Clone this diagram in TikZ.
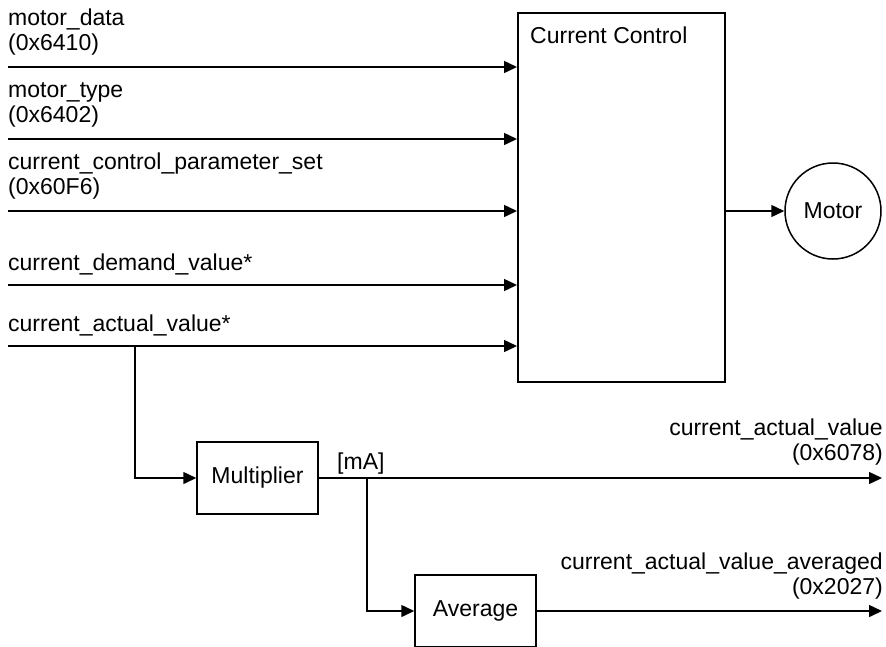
\documentclass[tikz,border=0pt]{standalone}
\usepackage{fontspec}
\setmainfont{Liberation Sans}
\usetikzlibrary{arrows.meta}
\tikzset{
  lbl/.style={font=\fontsize{23}{25}\selectfont, inner sep=0pt, align=left},
  block/.style={draw, line width=1.5pt, inner sep=0pt},
  sig/.style={line width=1.5pt, -{Triangle[length=13pt,width=12pt]}},
}

\begin{document}
\begin{tikzpicture}[x=1pt, y=-1pt]
  \useasboundingbox (0,0) rectangle (886,646);
  % Current control block and motor
  \node[block, anchor=north west, minimum width=207pt, minimum height=369pt] (cc) at (517,12) {};
  \node[lbl, anchor=base west] (cctext) at (530,43) {Current Control};
  \node[lbl, block, circle, minimum size=96pt] (motor) at (833,211) {Motor};
  \draw[sig] (cc.east |- motor) -- (motor);

  % Inputs of the current control (label base = last line)
  \foreach \n/\y/\b/\txt in {1/67/50/{motor\_data\\(0x6410)},
                             2/139/122/{motor\_type\\(0x6402)},
                             3/211/194/{current\_control\_parameter\_set\\(0x60F6)},
                             4/285/270/{current\_demand\_value*},
                             5/346/331/{current\_actual\_value*}} {
    \coordinate (in\n) at (8,\y);
    \node[lbl, anchor=base west] (inlbl\n) at (8,\b) {\txt};
    \draw[sig] (in\n) -- (in\n -| cc.west);
  }

  % Multiplier
  \coordinate (br1) at (135,346);
  \node[lbl, block, minimum width=121pt, minimum height=72pt] (mul) at (257.5,478) {Multiplier};
  \draw[sig] (br1) |- (mul);
  \node[lbl, anchor=base west] (unit) at (337,469) {[mA]};
  \coordinate (out1) at (882,478);
  \draw[sig] (mul) -- (out1);
  \node[lbl, anchor=base east, align=right] (outlbl1) at (883,460) {current\_actual\_value\\(0x6078)};

  % Average
  \coordinate (br2) at (367,478);
  \node[lbl, block, minimum width=121pt, minimum height=72pt] (avg) at (475.5,611) {Average};
  \draw[sig] (br2) |- (avg);
  \coordinate (out2) at (882,611);
  \draw[sig] (avg) -- (out2);
  \node[lbl, anchor=base east, align=right] (outlbl2) at (883,594) {current\_actual\_value\_averaged\\(0x2027)};
\end{tikzpicture}
\end{document}
